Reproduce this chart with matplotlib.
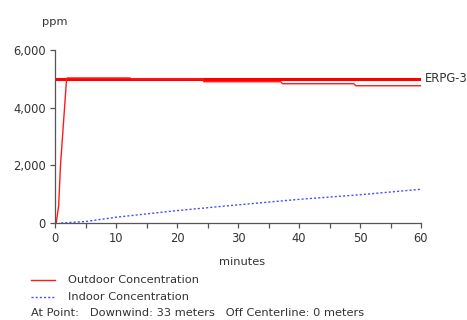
import matplotlib
matplotlib.use("Agg")
import matplotlib.pyplot as plt
from matplotlib.lines import Line2D
from matplotlib.ticker import MultipleLocator, StrMethodFormatter

# outdoor concentration (ppm) over time (minutes)
outdoor_t = [0, 0.2, 0.6, 0.9, 1.9, 2.0, 12.3, 12.4, 24.2, 24.4, 37.0, 37.3, 49.0, 49.3, 60]
outdoor_ppm = [0, 0, 600, 2000, 5000, 5030, 5030, 5000, 5000, 4900, 4900, 4830, 4830, 4760, 4760]

# indoor concentration (ppm)
indoor_t = [1, 5, 10, 20, 30, 40, 50, 60]
indoor_ppm = [0, 50, 200, 430, 630, 820, 980, 1170]

# level of concern
erpg3_level = 5000
erpg3_label = "ERPG-3"

W, H = 467, 320
text_col = "#333333"
axis_col = "#555555"
fs = 8.2

fig = plt.figure(figsize=(W / 100, H / 100), dpi=100)
ax = fig.add_axes([55 / W, 1 - 223 / H, (421 - 55) / W, (223 - 50) / H])

ax.plot([0, 60], [erpg3_level, erpg3_level], color="#ff0000", lw=2.2, solid_capstyle="butt")
ax.plot(outdoor_t, outdoor_ppm, color="#ff1a1a", lw=1.0)
ax.plot(indoor_t, indoor_ppm, color="#4d4dff", lw=1.0, linestyle=(0, (1.5, 1.5)))

ax.text(60.6, erpg3_level, erpg3_label, ha="left", va="center", fontsize=8.3, color=text_col)

ax.set_xlim(0, 60)
ax.set_ylim(0, 6000)
ax.xaxis.set_major_locator(MultipleLocator(10))
ax.xaxis.set_minor_locator(MultipleLocator(5))
ax.yaxis.set_major_locator(MultipleLocator(2000))
ax.yaxis.set_major_formatter(StrMethodFormatter("{x:,.0f}"))

for s in ("top", "right"):
    ax.spines[s].set_visible(False)
for s in ("left", "bottom"):
    ax.spines[s].set_color(axis_col)
    ax.spines[s].set_linewidth(0.9)
ax.tick_params(which="both", direction="out", length=3.5, width=0.9, color=axis_col,
               labelsize=8.3, labelcolor=text_col, pad=3)

fig.text(55 / W, 1 - 22 / H, "ppm", ha="center", va="center", fontsize=fs, color=text_col)
fig.text(242 / W, 1 - 262 / H, "minutes", ha="center", va="center", fontsize=fs, color=text_col)

# legend
fig.add_artist(Line2D([31 / W, 55 / W], [1 - 280 / H, 1 - 280 / H], color="#ff1a1a", lw=1.0))
fig.add_artist(Line2D([31 / W, 55 / W], [1 - 297 / H, 1 - 297 / H], color="#4d4dff", lw=1.0,
                      linestyle=(0, (1.5, 1.5))))
fig.text(68 / W, 1 - 280 / H, "Outdoor Concentration", ha="left", va="center", fontsize=fs, color=text_col)
fig.text(68 / W, 1 - 297 / H, "Indoor Concentration", ha="left", va="center", fontsize=fs, color=text_col)
fig.text(31 / W, 1 - 313 / H, "At Point:   Downwind: 33 meters   Off Centerline: 0 meters",
         ha="left", va="center", fontsize=fs, color=text_col)

fig.savefig("out.png", dpi=100)
